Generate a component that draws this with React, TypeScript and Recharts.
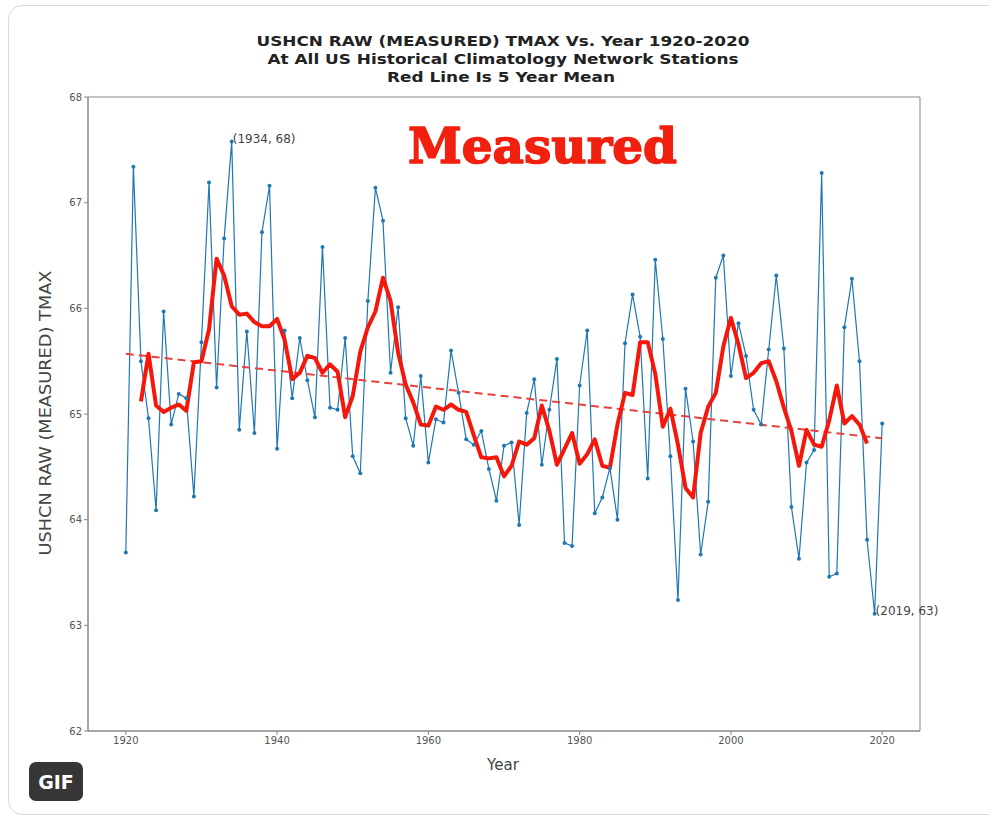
import React from 'react';
import {
  LineChart,
  Line,
  XAxis,
  YAxis,
  ReferenceArea,
  ReferenceDot,
} from 'recharts';

const startYear = 1920;

const rawTmax = [
  63.69, 67.34, 65.5, 64.96, 64.09, 65.97, 64.9, 65.19, 65.15, 64.22,
  65.68, 67.19, 65.25, 66.66, 67.58, 64.85, 65.78, 64.82, 66.72, 67.16,
  64.67, 65.79, 65.15, 65.72, 65.32, 64.97, 66.58, 65.06, 65.04, 65.72,
  64.6, 64.44, 66.07, 67.14, 66.83, 65.39, 66.01, 64.96, 64.7, 65.36,
  64.54, 64.95, 64.92, 65.6, 65.2, 64.76, 64.71, 64.84, 64.48, 64.18,
  64.7, 64.73, 63.95, 65.01, 65.33, 64.52, 65.04, 65.52, 63.78, 63.75,
  65.27, 65.79, 64.06, 64.21, 64.49, 64.0, 65.67, 66.13, 65.73, 64.39,
  66.46, 65.71, 64.6, 63.24, 65.24, 64.74, 63.67, 64.17, 66.29, 66.5,
  65.36, 65.86, 65.55, 65.04, 64.9, 65.61, 66.31, 65.62, 64.12, 63.63,
  64.54, 64.66, 67.28, 63.46, 63.49, 65.82, 66.28, 65.5, 63.81, 63.11,
  64.91,
];

// red 5 year mean, 1922-2018
const meanStartYear = 1922;
const fiveYearMean = [
  65.12, 65.57, 65.08, 65.02, 65.06, 65.09, 65.03, 65.49, 65.5, 65.8,
  66.47, 66.31, 66.02, 65.94, 65.95, 65.87, 65.83, 65.83, 65.9, 65.7,
  65.33, 65.39, 65.55, 65.53, 65.39, 65.47, 65.4, 64.97, 65.17, 65.59,
  65.82, 65.97, 66.29, 66.07, 65.58, 65.28, 65.11, 64.9, 64.89, 65.07,
  65.04, 65.09, 65.04, 65.02, 64.8, 64.59, 64.58, 64.59, 64.41, 64.51,
  64.74, 64.71, 64.77, 65.08, 64.84, 64.52, 64.67, 64.82, 64.53, 64.62,
  64.76, 64.51, 64.49, 64.9, 65.2, 65.18, 65.68, 65.68, 65.38, 64.88,
  65.05, 64.71, 64.3, 64.21, 64.82, 65.07, 65.2, 65.64, 65.91, 65.66,
  65.34, 65.39, 65.48, 65.5, 65.31, 65.06, 64.84, 64.51, 64.85, 64.71,
  64.69, 64.94, 65.27, 64.91, 64.98, 64.9, 64.72,
];

// dashed trend line end points
const trendYears = [1920, 2020];
const trendValues = [65.57, 64.77];

const xTicks = [1920, 1940, 1960, 1980, 2000, 2020];
const yTicks = [62, 63, 64, 65, 66, 67, 68];

const data = rawTmax.map((v, i) => {
  const year = startYear + i;
  const mi = year - meanStartYear;
  const ti = trendYears.indexOf(year);
  return {
    year,
    raw: v,
    mean: mi >= 0 && mi < fiveYearMean.length ? fiveYearMean[mi] : null,
    trend: ti >= 0 ? trendValues[ti] : null,
  };
});

const FONT = 'DejaVu Sans, sans-serif';
const tickStyle = { fontSize: 10, fill: '#555', fontFamily: FONT };

const annotation = (text: string) => (props: any) => {
  const vb = props.viewBox || {};
  return (
    <text
      x={vb.x + 1}
      y={vb.y - 2}
      fontSize={12}
      fill="#444"
      fontFamily={FONT}
      dominantBaseline="middle"
    >
      {text}
    </text>
  );
};

export default function App() {
  return (
    <div style={{ position: 'absolute', left: 0, top: 0, width: 989, height: 818, background: '#fff', overflow: 'hidden' }}>
      <div
        style={{
          position: 'absolute',
          left: 8,
          top: 5,
          width: 1010,
          height: 808,
          border: '1px solid #d9d9d9',
          borderRadius: 14,
        }}
      />
      <LineChart
        width={989}
        height={818}
        data={data}
        margin={{ top: 97, right: 69, bottom: 57, left: 0 }}
      >
        <XAxis
          dataKey="year"
          type="number"
          domain={[1915, 2025]}
          ticks={xTicks}
          height={30}
          tick={tickStyle}
          tickSize={4}
          tickLine={{ stroke: '#888' }}
          axisLine={{ stroke: '#888' }}
        />
        <YAxis
          type="number"
          domain={[62, 68]}
          ticks={yTicks}
          width={88}
          tick={tickStyle}
          tickSize={4}
          tickLine={{ stroke: '#888' }}
          axisLine={{ stroke: '#888' }}
        />
        <ReferenceArea x1={1915} x2={2025} y1={62} y2={68} fill="none" stroke="#888" strokeWidth={1} />
        <Line
          type="linear"
          dataKey="raw"
          stroke="#1f77b4"
          strokeWidth={1.2}
          dot={{ r: 2, fill: '#1f77b4', stroke: '#1f77b4', strokeWidth: 0 }}
          isAnimationActive={false}
        />
        <Line
          type="linear"
          dataKey="trend"
          stroke="#e8413c"
          strokeWidth={2}
          strokeDasharray="8 5"
          dot={false}
          connectNulls
          isAnimationActive={false}
        />
        <Line
          type="linear"
          dataKey="mean"
          stroke="#f5180a"
          strokeWidth={4}
          dot={false}
          strokeLinejoin="round"
          isAnimationActive={false}
        />
        <ReferenceDot x={1934} y={67.58} r={0} fill="none" stroke="none" label={annotation('(1934, 68)')} />
        <ReferenceDot x={2019} y={63.11} r={0} fill="none" stroke="none" label={annotation('(2019, 63)')} />
      </LineChart>
      <svg
        width={989}
        height={818}
        style={{ position: 'absolute', left: 0, top: 0, pointerEvents: 'none' }}
      >
        <g fontFamily={FONT} fontWeight="bold" fontSize={14} fill="#222" textAnchor="middle">
          <text x={503} y={46} textLength={493} lengthAdjust="spacingAndGlyphs">
            USHCN RAW (MEASURED) TMAX Vs. Year 1920-2020
          </text>
          <text x={503} y={64} textLength={471} lengthAdjust="spacingAndGlyphs">
            At All US Historical Climatology Network Stations
          </text>
          <text x={501} y={82} textLength={228} lengthAdjust="spacingAndGlyphs">
            Red Line Is 5 Year Mean
          </text>
        </g>
        <text
          x={408}
          y={163}
          fontFamily="DejaVu Serif, serif"
          fontWeight="bold"
          fontSize={48}
          fill="#f2200f"
          stroke="#f2200f"
          strokeWidth={1.6}
          strokeLinejoin="round"
          textLength={269}
          lengthAdjust="spacingAndGlyphs"
        >
          Measured
        </text>
        <text
          transform="translate(51,413) rotate(-90)"
          textAnchor="middle"
          fontFamily={FONT}
          fontSize={15}
          fill="#444"
          textLength={285}
          lengthAdjust="spacingAndGlyphs"
        >
          USHCN RAW (MEASURED) TMAX
        </text>
        <text x={503} y={770} textAnchor="middle" fontFamily={FONT} fontSize={15} fill="#444">
          Year
        </text>
        <rect x={29} y={762} width={54} height={39} rx={7} fill="#363636" />
        <text x={56} y={789} textAnchor="middle" fontFamily={FONT} fontWeight="bold" fontSize={19} fill="#fff">
          GIF
        </text>
      </svg>
    </div>
  );
}
